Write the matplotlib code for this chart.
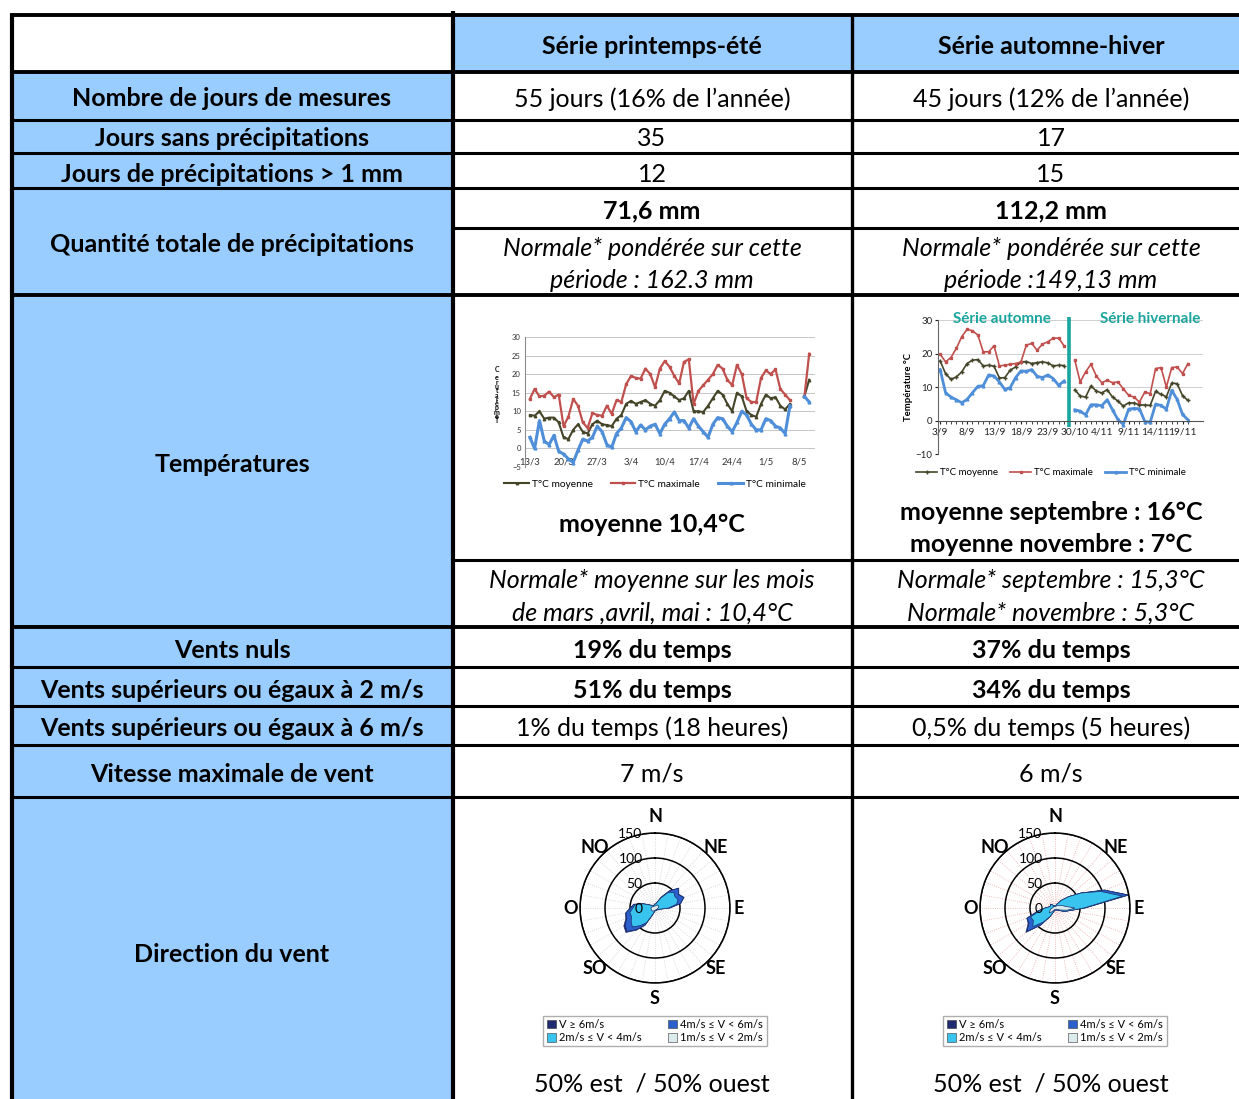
import numpy as np
import matplotlib
matplotlib.use('Agg')
import matplotlib.pyplot as plt
from matplotlib.patches import Rectangle, Patch
from matplotlib.transforms import offset_copy

plt.rcParams['font.family'] = ['Lato', 'DejaVu Sans']

W, H = 1239, 1099

# ---------- textes du tableau ----------
series_titles = ['Série printemps-été', 'Série automne-hiver']
row_labels = ['Nombre de jours de mesures', 'Jours sans précipitations',
              'Jours de précipitations > 1 mm', 'Quantité totale de précipitations',
              'Températures', 'Vents nuls', 'Vents supérieurs ou égaux à 2 m/s',
              'Vents supérieurs ou égaux à 6 m/s', 'Vitesse maximale de vent',
              'Direction du vent']
jours_mesures = ['55 jours (16% de l’année)', '45 jours (12% de l’année)']
jours_sans = ['35', '17']
jours_precip = ['12', '15']
precip_totale = ['71,6 mm', '112,2 mm']
precip_normale = [['Normale* pondérée sur cette', 'période : 162.3 mm'],
                  ['Normale* pondérée sur cette', 'période :149,13 mm']]
temp_moyenne = [['moyenne 10,4°C'],
                ['moyenne septembre : 16°C', 'moyenne novembre : 7°C']]
temp_normale = [['Normale* moyenne sur les mois', 'de mars ,avril, mai : 10,4°C'],
                ['Normale* septembre : 15,3°C', 'Normale* novembre : 5,3°C']]
vents_nuls = ['19% du temps', '37% du temps']
vents_2 = ['51% du temps', '34% du temps']
vents_6 = ['1% du temps (18 heures)', '0,5% du temps (5 heures)']
vitesse_max = ['7 m/s', '6 m/s']
repartition = ['50% est  / 50% ouest', '50% est  / 50% ouest']

# ---------- températures printemps-été (13/3 -> 11/5) ----------
pe_ticks = ['13/3', '20/3', '27/3', '3/4', '10/4', '17/4', '24/4', '1/5', '8/5']
pe_max = [13.3, 16, 14, 14.2, 15.3, 13.8, 14.5, 6, 8.5, 13.3,
          11.5, 7, 5.5, 9.5, 9, 8.8, 11.5, 9.3, 13, 12.5,
          17.3, 19.5, 19, 18.8, 21.5, 20, 16.5, 21.5, 23.5, 22,
          19.5, 17.5, 23.3, 24, 12, 15.5, 17, 18.5, 20, 22.5,
          21.5, 18.5, 17, 22.5, 20, 13.5, 12.5, 12.5, 19, 21,
          20, 21.3, 16, 14.5, 13, np.nan, np.nan, 14, 25.5]
pe_moy = [9, 8.8, 10, 8, 8.3, 8.3, 7, 3, 2.5, 5,
          6.5, 4.5, 4, 6.5, 7.5, 6.5, 6.3, 6, 8, 9,
          12, 12.8, 12, 12.5, 13, 12, 11.5, 13, 15.5, 15,
          14, 13, 13.5, 15.5, 10, 10, 9.8, 11.5, 13.5, 15.5,
          14.5, 12, 10, 15, 14, 10, 9, 8.5, 12, 14.5,
          13.5, 13.8, 11.5, 10.5, 12, np.nan, np.nan, 14, 18.5]
pe_min = [3, 0, 7.5, 2, 1, 3.5, -0.8, -1.5, -2.8, -3.8,
          -0.5, 2.5, 2, 3, 6, 4.5, 1, 0.3, 4, 5.5,
          8.3, 7.2, 4.5, 6.3, 5, 6, 6.5, 4, 6.5, 8,
          9.8, 7.5, 7.5, 5.5, 8, 6, 4.5, 3, 6.5, 8.3,
          8, 6, 4.5, 7, 10, 9, 6.5, 5, 5, 8,
          7.5, 6, 5.5, 4, 11.5, np.nan, np.nan, 14, 12.5]

# ---------- températures automne (3/9 -> 26/9) et hiver (30/10 -> 20/11) ----------
ah_ticks = ['3/9', '8/9', '13/9', '18/9', '23/9', '30/10', '4/11', '9/11', '14/11', '19/11']
aut_max = [19.8, 17.5, 18.8, 21.5, 25, 27.2, 26.8, 25.5, 20.5, 20.5, 22.3, 16.3,
           16.5, 16.8, 17, 17.5, 22.5, 23, 21, 22.8, 23.5, 24.6, 24.6, 22.3]
aut_moy = [17.8, 14, 12.3, 13, 14.5, 17, 18, 18.2, 16.3, 16.5, 16.2, 12.7,
           12.8, 15, 16, 17.5, 17.6, 17, 17.3, 17.5, 17.2, 16.3, 16.5, 16.4]
aut_min = [15.2, 8.3, 7, 6.2, 5.3, 6.3, 8.3, 10.2, 10.4, 13.6, 13.3, 11.5,
           9.3, 9.8, 12.8, 14.8, 14.7, 15.2, 13.2, 12.8, 13.6, 12.5, 10.5, 11.8]
hiv_max = [18, 11.5, 14.5, 16.8, 13.3, 11.3, 12, 11.3, 11.5, 9.5, 7.5,
           7, 5.5, 8.5, 8, 15.5, 15.8, 10, 15.8, 16, 14, 17]
hiv_moy = [9.2, 7.3, 7, 10.3, 8.8, 8.2, 9.2, 7, 5.8, 4.3, 5.3,
           5.2, 4.7, 4.6, 4.5, 8.7, 7.8, 7.1, 11.2, 11, 7.4, 6]
hiv_min = [3.2, 2.8, 1.7, 4.7, 4.7, 4.4, 6.2, 3.2, 0.3, -1.2, 3.4,
           3.6, 3.5, -0.3, -0.5, 4.9, 4.5, 3.4, 9, 6.3, 1.8, 0.2]

# ---------- roses des vents (36 directions : 0°, 10°, ... 350°, sens horaire depuis le N) ----------
rose_deg = list(range(0, 360, 10))
pe_v12 = [4, 4, 5, 6, 8, 8, 8, 8, 7, 6, 5, 5, 5, 4, 4, 5, 4, 4,
          5, 5, 6, 7, 8, 8, 8, 8, 8, 8, 7, 6, 5, 5, 4, 4, 4, 5]
pe_v24 = [4, 4, 7, 17, 32, 41, 38, 41, 37, 21, 7, 3, 1, 2, 1, 1, 1, 1,
          1, 3, 8, 27, 38, 51, 47, 42, 43, 36, 33, 18, 7, 3, 2, 2, 2, 2]
pe_v46 = [0, 0, 0, 2, 5, 12, 8, 12, 8, 3, 0, 0, 0, 0, 0, 0, 0, 0,
          0, 0, 1, 5, 10, 14, 14, 10, 8, 5, 3, 1, 0, 0, 0, 0, 0, 0]
pe_v6 = [0, 0, 0, 0, 0, 1, 1, 1, 0, 0, 0, 0, 0, 0, 0, 0, 0, 0,
         0, 0, 0, 1, 2, 3, 3, 2, 1, 1, 0, 0, 0, 0, 0, 0, 0, 0]
ah_v12 = [3, 3, 3, 4, 6, 8, 10, 15, 20, 40, 25, 12, 6, 4, 3, 3, 3, 3,
          3, 3, 4, 6, 10, 15, 12, 10, 8, 5, 4, 4, 4, 5, 4, 3, 3, 3]
ah_v24 = [2, 2, 3, 6, 14, 27, 50, 82, 117, 18, 5, 8, 4, 2, 2, 2, 1, 1,
          1, 2, 4, 14, 27, 43, 38, 42, 23, 15, 8, 6, 6, 7, 4, 3, 2, 2]
ah_v46 = [0, 0, 0, 0, 0, 0, 0, 8, 12, 2, 0, 0, 0, 0, 0, 0, 0, 0,
          0, 0, 0, 0, 8, 15, 10, 8, 4, 0, 0, 0, 0, 0, 0, 0, 0, 0]
ah_v6 = [0, 0, 0, 0, 0, 0, 0, 0, 1, 0, 0, 0, 0, 0, 0, 0, 0, 0,
         0, 0, 0, 0, 0, 3, 2, 0, 0, 0, 0, 0, 0, 0, 0, 0, 0, 0]
rose_rings = [0, 50, 100, 150]
dir_labels = ['N', 'NE', 'E', 'SE', 'S', 'SO', 'O', 'NO']
class_labels = ['1m/s ≤ V < 2m/s', '2m/s ≤ V < 4m/s', '4m/s ≤ V < 6m/s', 'V ≥ 6m/s']

BLUE = '#99CCFF'
C_MOY = '#45452A'
C_MAX = '#C0504D'
C_MIN = '#4F8ED8'
TEAL = '#1AA59E'
ROSE_COLORS = ['#DCEBEE', '#38C4EE', '#2A5FCC', '#1F2A70']
FS = 18

fig = plt.figure(figsize=(W / 100, H / 100), dpi=100)
base = fig.add_axes([0, 0, 1, 1])
base.set_xlim(0, W)
base.set_ylim(H, 0)
base.axis('off')


def px_axes(x0, y0, x1, y1, **kw):
    return fig.add_axes([x0 / W, 1 - y1 / H, (x1 - x0) / W, (y1 - y0) / H], **kw)


def txt(x, y, s, weight='normal', style='normal', size=FS, **kw):
    # +2 px : centrage vertical comme dans le tableur
    base.text(x, y + 2, s, ha='center', va='center', fontsize=size,
              fontweight=weight, fontstyle=style, **kw)


# fonds bleus
base.add_patch(Rectangle((12, 72), 441, H - 72, color=BLUE, lw=0))
base.add_patch(Rectangle((453, 15), W - 453, 57, color=BLUE, lw=0))

# traits du tableau
for y in [15, 72, 295, 627]:
    base.plot([10, W], [y, y], color='k', lw=2.8, solid_capstyle='butt')
for y in [120, 153, 188, 667, 706, 745, 797]:
    base.plot([10, W], [y, y], color='k', lw=2.2, solid_capstyle='butt')
for y in [228, 560]:
    base.plot([453, W], [y, y], color='k', lw=2.2, solid_capstyle='butt')
base.plot([12, 12], [14, H], color='k', lw=3, solid_capstyle='butt')
base.plot([453, 453], [11, H], color='k', lw=3, solid_capstyle='butt')
base.plot([852, 852], [14, H], color='k', lw=2.4, solid_capstyle='butt')

# textes
col_cx = [652, 1051]
label_y = [97, 137, 172, 243, 463, 649, 688, 726, 772, 953]
for lab, y in zip(row_labels, label_y):
    txt(232, y, lab, weight='bold')
for i, cx in enumerate(col_cx):
    txt(cx, 45, series_titles[i], weight='bold')
    txt(cx, 97, jours_mesures[i])
    txt(cx, 137, jours_sans[i])
    txt(cx, 172, jours_precip[i])
    txt(cx, 209, precip_totale[i], weight='bold')
    for line, y in zip(precip_normale[i], [246, 279]):
        txt(cx, y, line, style='italic')
    ys = [522] if len(temp_moyenne[i]) == 1 else [510, 543]
    for line, y in zip(temp_moyenne[i], ys):
        txt(cx, y, line, weight='bold')
    for line, y in zip(temp_normale[i], [578, 611]):
        txt(cx, y, line, style='italic')
    txt(cx, 649, vents_nuls[i], weight='bold')
    txt(cx, 688, vents_2[i], weight='bold')
    txt(cx, 726, vents_6[i])
    txt(cx, 772, vitesse_max[i])
    txt(cx, 1082, repartition[i])

# ---------- graphique printemps-été ----------
ax1 = px_axes(525, 337, 815, 467)
x1 = np.arange(len(pe_max))
ax1.plot(x1, pe_moy, color=C_MOY, lw=1.5, marker='^', ms=1.8, label='T°C moyenne')
ax1.plot(x1, pe_max, color=C_MAX, lw=1.6, marker='s', ms=1.8, label='T°C maximale')
ax1.plot(x1, pe_min, color=C_MIN, lw=2.2, marker='^', ms=2, label='T°C minimale')
ax1.set_xlim(-1, 59.2)
ax1.set_ylim(-5, 30)
ax1.set_yticks(range(-5, 31, 5))
ax1.set_xticks(range(0, 57, 7))
ax1.set_xticklabels(pe_ticks)
ax1.grid(axis='y', color='#bdbdbd', lw=0.6)
ax1.set_axisbelow(True)
for s in ['top', 'right', 'bottom']:
    ax1.spines[s].set_visible(False)
ax1.spines['left'].set_color('#8c8c8c')
ax1.tick_params(axis='y', labelsize=5.5, length=0, pad=3, colors='#333333')
ax1.tick_params(axis='x', labelsize=6.8, length=0, pad=-7, colors='#333333')
base.text(497, 395, '\n'.join(reversed('Températur' + 'e C')), fontsize=5,
          fontweight='bold', ha='center', va='center', linespacing=0.55)
fig.legend(*ax1.get_legend_handles_labels(), loc='center', ncol=3,
           bbox_to_anchor=(655 / W, 1 - 484 / H), frameon=False,
           fontsize=7.3, handlelength=2.4, columnspacing=1.8, handletextpad=0.3)

# ---------- graphique automne-hiver ----------
ax2 = px_axes(938, 320, 1203, 454)
xa = np.arange(len(aut_max))
xh = np.arange(len(hiv_max)) + len(aut_max) + 1
ax2.plot(xa, aut_moy, color=C_MOY, lw=1.2, marker='+', ms=2.5, label='T°C moyenne')
ax2.plot(xa, aut_max, color=C_MAX, lw=1.2, marker='s', ms=2, label='T°C maximale')
ax2.plot(xa, aut_min, color=C_MIN, lw=2, marker='^', ms=2, label='T°C minimale')
ax2.plot(xh, hiv_moy, color=C_MOY, lw=1.2, marker='+', ms=2.5)
ax2.plot(xh, hiv_max, color=C_MAX, lw=1.2, marker='s', ms=2)
ax2.plot(xh, hiv_min, color=C_MIN, lw=2, marker='^', ms=2)
sep = len(aut_max)
ax2.plot([sep, sep], [-2, 31], color=TEAL, lw=2.6, clip_on=False, solid_capstyle='butt')
ax2.text(11.5, 30.3, 'Série automne', color=TEAL, fontsize=11, fontweight='bold',
         ha='center', va='center')
ax2.text(39, 30.3, 'Série hivernale', color=TEAL, fontsize=11, fontweight='bold',
         ha='center', va='center')
ax2.set_xlim(-0.4, 48.8)
ax2.set_ylim(-10, 30)
ax2.set_yticks([-10, 0, 10, 20, 30])
ax2.set_xticks(range(0, 46, 5))
ax2.set_xticklabels(ah_ticks)
ax2.set_xticks(range(0, 47), minor=True)
ax2.spines['bottom'].set_position(('data', 0))
for s in ['top', 'right']:
    ax2.spines[s].set_visible(False)
ax2.spines['left'].set_color('#666666')
ax2.spines['bottom'].set_color('#555555')
ax2.grid(axis='y', color='#c8c8c8', lw=0.6)
ax2.set_axisbelow(True)
ax2.tick_params(axis='y', labelsize=7, length=2, pad=2, colors='#222222')
ax2.tick_params(axis='x', which='both', labelsize=7.3, length=2, pad=3, colors='#222222')
ax2.set_ylabel('Température °C', fontsize=6.8, fontweight='bold', labelpad=2)
fig.legend(*ax2.get_legend_handles_labels(), loc='center', ncol=3,
           bbox_to_anchor=(1051 / W, 1 - 473 / H), frameon=False,
           fontsize=7, handlelength=2.2, columnspacing=1.2, handletextpad=0.3)


# ---------- roses des vents ----------
def rose(cx, cy, layers, spoke_color):
    ax = px_axes(cx - 75, cy - 75, cx + 75, cy + 75, projection='polar')
    ax.set_theta_zero_location('N')
    ax.set_theta_direction(-1)
    theta = np.deg2rad(rose_deg)
    th = np.append(theta, theta[0])
    cum = np.cumsum(np.array(layers, dtype=float), axis=0)
    for k in range(len(layers) - 1, -1, -1):
        r = np.append(cum[k], cum[k][0])
        ax.fill(th, r, color=ROSE_COLORS[k], ec='#1d2f6a', lw=0.5)
    ax.set_ylim(0, 150)
    ax.set_yticks(rose_rings[1:])
    ax.set_yticklabels([])
    ax.set_xticks(np.deg2rad(np.arange(0, 360, 10)))
    ax.set_xticklabels([])
    ax.grid(axis='x', color=spoke_color, ls=':', lw=0.6)
    ax.grid(axis='y', color='k', lw=1.1)
    ax.set_axisbelow(True)
    ax.spines['polar'].set_linewidth(1.1)
    off = offset_copy(ax.transData, fig=fig, x=-9, y=-1, units='points')
    for rv in rose_rings:
        ax.text(0, rv, str(rv), transform=off, fontsize=10, ha='right', va='center',
                clip_on=False)
    radii = [182, 171, 168, 171, 182, 171, 168, 171]
    for i, (lab, rr) in enumerate(zip(dir_labels, radii)):
        ax.text(np.deg2rad(45 * i), rr, lab, fontsize=13, fontweight='bold',
                ha='center', va='center', clip_on=False)
    handles = [Patch(fc=ROSE_COLORS[3], ec='#333333', lw=0.4, label=class_labels[3]),
               Patch(fc=ROSE_COLORS[1], ec='#333333', lw=0.4, label=class_labels[1]),
               Patch(fc=ROSE_COLORS[2], ec='#333333', lw=0.4, label=class_labels[2]),
               Patch(fc=ROSE_COLORS[0], ec='#333333', lw=0.4, label=class_labels[0])]
    fig.legend(handles=handles, loc='center', ncol=2, bbox_to_anchor=(cx / W, 1 - 1031 / H),
               fontsize=8, frameon=True, fancybox=False, edgecolor='#9a9a9a',
               handlelength=0.8, handleheight=0.8, columnspacing=2.4, borderpad=0.3,
               labelspacing=0.2, handletextpad=0.3)


rose(655, 908, [pe_v12, pe_v24, pe_v46, pe_v6], '#cfcfcf')
rose(1055, 908, [ah_v12, ah_v24, ah_v46, ah_v6], '#eaa8a8')

fig.savefig('out.png', dpi=100)
